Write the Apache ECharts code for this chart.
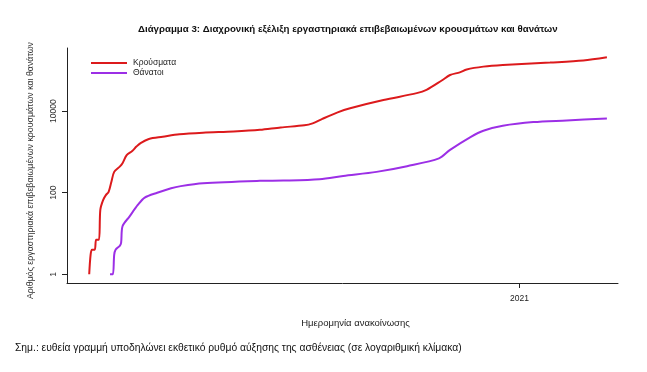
<!DOCTYPE html>
<html>
<head>
<meta charset="utf-8">
<script src="https://cdn.jsdelivr.net/npm/echarts@6/dist/echarts.min.js"></script>
<style>html,body{margin:0;padding:0;background:#fff}#c{width:647px;height:372px}</style>
</head>
<body>
<div id="c"></div>
<script>
const caseDates = ['2020-02-26','2020-02-27','2020-02-28','2020-03-01','2020-03-02','2020-03-04','2020-03-05','2020-03-07','2020-03-09','2020-03-11','2020-03-13','2020-03-15','2020-03-19','2020-03-21','2020-03-24','2020-03-28','2020-03-31','2020-04-03','2020-04-09','2020-04-19','2020-05-01','2020-05-18','2020-06-09','2020-06-28','2020-07-13','2020-07-30','2020-08-05','2020-08-12','2020-08-23','2020-09-01','2020-09-25','2020-10-19','2020-10-26','2020-11-06','2020-11-12','2020-11-19','2020-11-24','2020-12-06','2020-12-20','2021-01-23','2021-02-16','2021-03-05'];
const cases = [1,3,4,4,7,7,38,66,87,105,186,324,436,530,832,1050,1350,1650,2080,2350,2700,2950,3160,3470,3980,4470,5010,6460,9330,11750,18620,27540,33110,56230,76700,89130,105000,123000,134900,154900,173800,208900];
const deathDates = ['2020-03-12','2020-03-14','2020-03-15','2020-03-16','2020-03-19','2020-03-20','2020-03-21','2020-03-26','2020-04-01','2020-04-06','2020-04-15','2020-04-25','2020-05-02','2020-05-18','2020-06-28','2020-07-15','2020-08-10','2020-08-27','2020-09-20','2020-10-12','2020-11-04','2020-11-12','2020-11-27','2020-12-06','2020-12-20','2021-01-11','2021-02-04','2021-03-05'];
const deaths = [1,1,3,4,5,6,15,26,50,76,100,129,145,170,195,198,214,257,324,447,692,1122,2344,3311,4365,5370,5890,6607];
const yTicks = [1,100,10000];
const xTicks = ['2021-01-01'];
const xTickLabels = ['2021'];
const seriesNames = ['Κρούσματα','Θάνατοι'];

const FONT = 'Liberation Sans';
const t = d => Date.UTC(+d.slice(0,4), +d.slice(5,7) - 1, +d.slice(8,10));
const chart = echarts.init(document.getElementById('c'), null, {renderer:'canvas'});
const xTickTimes = xTicks.map(t);
chart.setOption({
  animation: false,
  textStyle: {fontFamily: FONT},
  title: {
    text: 'Διάγραμμα 3: Διαχρονική εξέλιξη εργαστηριακά επιβεβαιωμένων κρουσμάτων και θανάτων',
    left: 133, top: 19,
    textStyle: {fontSize: 9.7, fontWeight: 'bold', color: '#111', fontFamily: FONT}
  },
  graphic: [{
    type: 'text', left: 15, top: 343,
    style: {text: 'Σημ.: ευθεία γραμμή υποδηλώνει εκθετικό ρυθμό αύξησης της ασθένειας (σε λογαριθμική κλίμακα)', fontSize: 10.3, fill: '#111', fontFamily: FONT}
  }],
  legend: {
    data: seriesNames,
    orient: 'vertical', left: 86, top: 53,
    icon: 'rect', itemWidth: 36, itemHeight: 2, itemGap: 0,
    textStyle: {fontSize: 8.5, color: '#222', lineHeight: 10, padding: [0,0,0,1]}
  },
  grid: {left: 67, right: 29, top: 48, bottom: 89, containLabel: false},
  xAxis: {
    type: 'value',
    min: t('2020-02-10'), max: t('2021-03-13'),
    name: 'Ημερομηνία ανακοίνωσης', nameLocation: 'middle', nameGap: 35,
    nameTextStyle: {fontSize: 9.5, color: '#222', padding: [0,0,0,26]},
    axisLine: {lineStyle: {color: '#222', width: 1}},
    axisTick: {show: true, length: 5, inside: false, customValues: xTickTimes, lineStyle: {color: '#222'}},
    axisLabel: {customValues: xTickTimes, fontSize: 8.5, color: '#222', margin: 11,
      formatter: v => xTickLabels[xTickTimes.indexOf(+v)] || ''},
    splitLine: {show: false}
  },
  yAxis: {
    type: 'log', logBase: 10,
    min: 0.612, max: 352000,
    name: 'Αριθμός εργαστηριακά επιβεβαιωμένων κρουσμάτων και θανάτων',
    nameLocation: 'middle', nameGap: 32,
    nameTextStyle: {fontSize: 8.8, color: '#333', padding: [0,10,0,0]},
    axisLine: {show: true, lineStyle: {color: '#222', width: 1}},
    axisTick: {show: true, length: 5, customValues: yTicks, lineStyle: {color: '#222'}},
    axisLabel: {customValues: yTicks, rotate: 90, fontSize: 8.5, color: '#333', margin: 9,
      formatter: v => String(Math.round(v))},
    splitLine: {show: false}
  },
  series: [
    {name: seriesNames[0], type: 'line', showSymbol: false, symbol: 'none',
     smooth: 0.3,
     data: caseDates.map((d,i) => [t(d), cases[i]]),
     lineStyle: {color: '#dc1a1c', width: 2}, itemStyle: {color: '#dc1a1c'}},
    {name: seriesNames[1], type: 'line', showSymbol: false, symbol: 'none',
     smooth: 0.3,
     data: deathDates.map((d,i) => [t(d), deaths[i]]),
     lineStyle: {color: '#9c2fe6', width: 2}, itemStyle: {color: '#9c2fe6'}}
  ]
});
</script>
</body>
</html>
